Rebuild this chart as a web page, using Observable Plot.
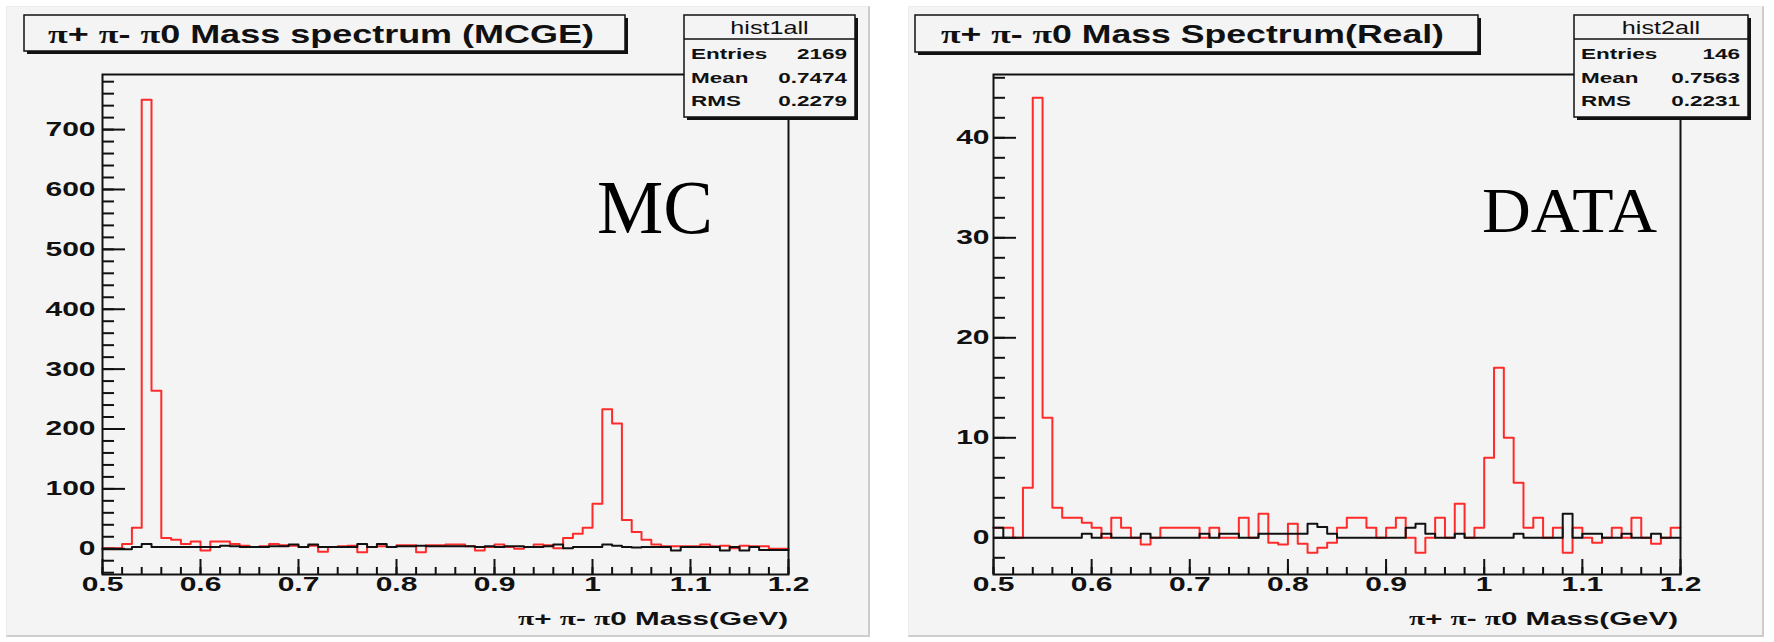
<!DOCTYPE html>
<html>
<head>
<meta charset="utf-8">
<script src="https://cdn.jsdelivr.net/npm/d3@7"></script>
<script src="https://cdn.jsdelivr.net/npm/@observablehq/plot@0.6"></script>
<style>
  html, body { margin: 0; padding: 0; background: #fff; overflow: hidden; }
  #page { position: relative; width: 1774px; height: 642px; font-family: "Liberation Sans", Arial, sans-serif; }
  #page > * { position: absolute; }
  .pad { background: #f4f4f4; box-sizing: border-box; border-right: 2px solid #cdcdcd; border-bottom: 2px solid #cdcdcd; border-top: 1px solid #ececec; border-left: 1px solid #ececec; }
</style>
</head>
<body>
<div id="page"></div>
<script>
// Bin low edges of the π+π−π0 invariant-mass histograms (GeV), 0.01 GeV bins
const massBins = [
  0.50, 0.51, 0.52, 0.53, 0.54, 0.55, 0.56, 0.57, 0.58, 0.59,
  0.60, 0.61, 0.62, 0.63, 0.64, 0.65, 0.66, 0.67, 0.68, 0.69,
  0.70, 0.71, 0.72, 0.73, 0.74, 0.75, 0.76, 0.77, 0.78, 0.79,
  0.80, 0.81, 0.82, 0.83, 0.84, 0.85, 0.86, 0.87, 0.88, 0.89,
  0.90, 0.91, 0.92, 0.93, 0.94, 0.95, 0.96, 0.97, 0.98, 0.99,
  1.00, 1.01, 1.02, 1.03, 1.04, 1.05, 1.06, 1.07, 1.08, 1.09,
  1.10, 1.11, 1.12, 1.13, 1.14, 1.15, 1.16, 1.17, 1.18, 1.19
];
const massMax = 1.2;

// Monte Carlo: signal region (red) and sideband (black)
const mcSignal = [
  1, 1, 8, 35, 750, 264, 18, 15, 8, 12,
  -3, 12, 12, 8, 5, 3, 4, 8, 6, 5,
  3, 5, -5, 3, 4, 5, -6, 3, 4, 3,
  6, 6, -6, 6, 6, 7, 7, 4, -3, 3,
  7, 3, 0, 3, 7, 6, 1, 18, 25, 35,
  75, 233, 209, 48, 28, 15, 7, 4, 4, 4,
  4, 7, 4, 5, 1, 5, 4, 4, 0, 0
];
const mcSideband = [
  -1, -1, -1, 3, 8, 3, 3, 3, 3, 3,
  3, 3, 5, 4, 3, 3, 3, 4, 4, 7,
  3, 7, 3, 3, 3, 3, 8, 3, 8, 3,
  4, 4, 5, 4, 4, 4, 4, 4, 3, 4,
  3, 4, 4, 3, 3, 4, 7, 1, 3, 3,
  3, 7, 5, 3, 2, 3, 3, 3, -3, 3,
  3, 3, 3, -3, 3, -3, 3, -2, -2, -2
];

// Real data: signal region (red) and sideband (black)
const dataSignal = [
  1, 1, 0, 5, 44, 12, 3, 2, 2, 1.5,
  1, 0, 2, 1, 0, -0.67, 0, 1, 1, 1,
  1, 0, 1, 0, 0, 2, 0, 2.4, -0.5, -0.67,
  1.4, -0.6, -1.5, -1, -0.5, 1, 2, 2, 1, 0,
  1, 2, 0, -1.5, 0, 2, 0, 3.4, 0, 1,
  8, 17, 10, 5.5, 1, 2, 0, 1, -1.5, 1,
  0, -0.5, 0, 1, 0, 2, 0, -0.6, 0, 1
];
const dataSideband = [
  1, 0, 0, 0, 0, 0, 0, 0, 0, 0.4,
  0, 0.4, 0, 0, 0, 0.4, 0, 0, 0, 0,
  0, 0.4, 0, 0.4, 0.4, 0, 0, 0.4, 0.4, 0.4,
  0.4, 0.4, 1.4, 1.07, 0.4, 0, 0, 0, 0, 0,
  0, 0, 1, 1.4, 0.4, 0, 0, 0.4, 0, 0,
  0, 0, 0, 0.4, 0, 0, 0, 0, 2.4, 0,
  0.4, 0.4, 0, 0, 0.4, 0, 0, 0.4, 0, 0
];

// Axis ticks and labels
const xMajor = [0.5, 0.6, 0.7, 0.8, 0.9, 1.0, 1.1, 1.2];
const xTickLabels = ["0.5", "0.6", "0.7", "0.8", "0.9", "1", "1.1", "1.2"];
const mcYMajor = [0, 100, 200, 300, 400, 500, 600, 700];
const mcYLabels = ["0", "100", "200", "300", "400", "500", "600", "700"];
const dataYMajor = [0, 10, 20, 30, 40];
const dataYLabels = ["0", "10", "20", "30", "40"];

// Titles and statistics boxes
const mcTitle = "π+ π- π0 Mass spectrum (MCGE)";
const dataTitle = "π+ π- π0 Mass Spectrum(Real)";
const xTitle = "π+ π- π0 Mass(GeV)";
const statNames = ["Entries", "Mean", "RMS"];
const mcHistName = "hist1all";
const mcStatValues = ["2169", "0.7474", "0.2279"];
const dataHistName = "hist2all";
const dataStatValues = ["146", "0.7563", "0.2231"];

const W = 1774, H = 642;
const SANS = "Liberation Sans, Arial, sans-serif";
const SERIF = "Liberation Serif, Times New Roman, serif";
const INK = "#111";
const RED = "#ff2b2b";
const STRETCH = 1.5; // the canvas is drawn horizontally widened

const page = document.getElementById("page");

function addPad(x0, y0, x1, y1) {
  const d = document.createElement("div");
  d.className = "pad";
  Object.assign(d.style, { left: x0 + "px", top: y0 + "px", width: (x1 - x0) + "px", height: (y1 - y0) + "px" });
  page.appendChild(d);
}

// histogram outline as a step line from the bin low edges
function steps(values) {
  const pts = massBins.map((x, i) => ({ x, y: values[i] }));
  pts.push({ x: massMax, y: values[values.length - 1] });
  return pts;
}

// widen every text of a Plot svg horizontally around its own anchor
function widenText(svg, s) {
  svg.querySelectorAll("text").forEach((t) => {
    const x = parseFloat(t.getAttribute("x"));
    if (!isNaN(x)) t.removeAttribute("x");
    const tr = t.getAttribute("transform") || "";
    t.setAttribute("transform", `${tr} translate(${isNaN(x) ? 0 : x},0) scale(${s},1)`);
  });
}

function histPanel({ signal, sideband, yDomain, yMajor, yMinor, yLabels, left, right, labelGap }) {
  const top = 74, bottom = 574;
  const frameW = right - left, frameH = bottom - top;
  const svg = Plot.plot({
    width: W, height: H,
    marginLeft: left, marginRight: W - right, marginTop: top, marginBottom: H - bottom,
    x: { domain: [0.5, massMax], axis: null },
    y: { domain: yDomain, axis: null },
    style: { background: "transparent", overflow: "visible" },
    marks: [
      Plot.line(steps(signal), { x: "x", y: "y", curve: "step-after", stroke: RED, strokeWidth: 2 }),
      Plot.line(steps(sideband), { x: "x", y: "y", curve: "step-after", stroke: INK, strokeWidth: 2 }),
      Plot.tickY(yMinor, { insetRight: frameW - 12, stroke: INK, strokeWidth: 2 }),
      Plot.tickY(yMajor, { insetRight: frameW - 23, stroke: INK, strokeWidth: 2 }),
      Plot.tickX(d3.range(0.5, massMax + 1e-9, 0.02), { insetTop: frameH - 7, stroke: INK, strokeWidth: 2 }),
      Plot.tickX(xMajor, { insetTop: frameH - 15, stroke: INK, strokeWidth: 2 }),
      Plot.frame({ stroke: INK, strokeWidth: 2 }),
      Plot.text(yMajor, {
        y: (d) => d, text: (d, i) => yLabels[i], frameAnchor: "left", dx: -labelGap,
        textAnchor: "end", fontSize: 20, fontWeight: "bold", fontFamily: SANS, fill: INK
      }),
      Plot.text(xMajor, {
        x: (d) => d, text: (d, i) => xTickLabels[i], frameAnchor: "bottom", dy: 16,
        fontSize: 20, fontWeight: "bold", fontFamily: SANS, fill: INK
      })
    ]
  });
  svg.style.left = "0px"; svg.style.top = "0px";
  page.appendChild(svg);
  widenText(svg, STRETCH);
}

// π drawn in a serif face, the rest in bold sans
function piText(sel, str) {
  str.split(/(π)/).filter((s) => s.length).forEach((s) => {
    sel.append("tspan")
      .attr("font-family", s === "π" ? SERIF : SANS)
      .attr("font-weight", "bold")
      .text(s);
  });
}

addPad(6, 6, 870, 637);
addPad(908, 6, 1764, 637);

histPanel({
  signal: mcSignal, sideband: mcSideband, yDomain: [-43, 792],
  yMajor: mcYMajor, yMinor: d3.range(-40, 792, 20), yLabels: mcYLabels,
  left: 102, right: 788, labelGap: 7
});
histPanel({
  signal: dataSignal, sideband: dataSideband, yDomain: [-3.67, 46.33],
  yMajor: dataYMajor, yMinor: d3.range(-2, 46.4, 2), yLabels: dataYLabels,
  left: 993, right: 1680, labelGap: 4
});

// titles, statistics boxes, axis titles and panel tags
const over = d3.create("svg").attr("width", W).attr("height", H)
  .style("left", "0px").style("top", "0px");

function shadowBox(x0, y0, x1, y1) {
  over.append("rect").attr("x", x0 + 3).attr("y", y0 + 3).attr("width", x1 - x0).attr("height", y1 - y0).attr("fill", INK);
  over.append("rect").attr("x", x0).attr("y", y0).attr("width", x1 - x0).attr("height", y1 - y0)
    .attr("fill", "#f4f4f4").attr("stroke", INK).attr("stroke-width", 1.5);
}

function title(str, box, tx0, tx1) {
  shadowBox(...box);
  const t = over.append("text").attr("x", tx0).attr("y", 42.5).attr("font-size", 26).attr("fill", INK)
    .attr("textLength", tx1 - tx0).attr("lengthAdjust", "spacingAndGlyphs");
  piText(t, str);
}

function stats(name, values, x0, x1) {
  const y0 = 15, y1 = 117;
  shadowBox(x0, y0, x1, y1);
  over.append("line").attr("x1", x0).attr("x2", x1).attr("y1", 39).attr("y2", 39).attr("stroke", INK).attr("stroke-width", 1.5);
  over.append("text").attr("transform", `translate(${(x0 + x1) / 2},34) scale(1.4,1)`)
    .attr("text-anchor", "middle").attr("font-family", SANS).attr("font-size", 18).attr("fill", INK).text(name);
  const base = [59, 83, 106];
  statNames.forEach((n, i) => {
    over.append("text").attr("transform", `translate(${x0 + 7},${base[i]}) scale(${STRETCH},1)`)
      .attr("font-family", SANS).attr("font-weight", "bold").attr("font-size", 15).attr("fill", INK).text(n);
    over.append("text").attr("transform", `translate(${x1 - 8},${base[i]}) scale(${STRETCH},1)`)
      .attr("text-anchor", "end").attr("font-family", SANS).attr("font-weight", "bold").attr("font-size", 15).attr("fill", INK).text(values[i]);
  });
}

function axisTitle(right, width) {
  const t = over.append("text").attr("x", right).attr("y", 625).attr("text-anchor", "end")
    .attr("font-size", 19).attr("fill", INK)
    .attr("textLength", width).attr("lengthAdjust", "spacingAndGlyphs");
  piText(t, xTitle);
}

title(mcTitle, [24, 15, 625, 51], 48, 594);
title(dataTitle, [915, 15, 1478, 52], 941, 1444);
stats(mcHistName, mcStatValues, 684, 855);
stats(dataHistName, dataStatValues, 1574, 1748);
axisTitle(788, 270);
axisTitle(1678, 269);

over.append("text").attr("x", 597).attr("y", 233).attr("font-family", SERIF).attr("font-size", 76)
  .attr("textLength", 116).attr("lengthAdjust", "spacingAndGlyphs").attr("fill", "#000").text("MC");
over.append("text").attr("x", 1482).attr("y", 232).attr("font-family", SERIF).attr("font-size", 64)
  .attr("textLength", 175).attr("lengthAdjust", "spacingAndGlyphs").attr("fill", "#000").text("DATA");

page.appendChild(over.node());
</script>
</body>
</html>
